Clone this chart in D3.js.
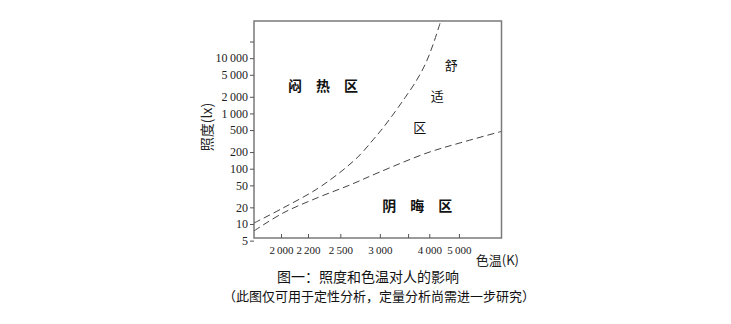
<!DOCTYPE html>
<html lang="zh">
<head>
<meta charset="UTF-8">
<title>照度和色温对人的影响</title>
<script src="https://d3js.org/d3.v7.min.js"></script>
<style>
  body { margin: 0; background: #fff; }
  svg { display: block; }
  .cjk { font-family: "Noto Sans CJK SC", sans-serif; }
</style>
</head>
<body>
<script>
// colour temperature (K) and illuminance (lx)
var xTicks = [2000, 2200, 2500, 3000, 3500, 4000, 5000];
var xTickLabels = ["2\u2009000", "2\u2009200", "2\u2009500", "3\u2009000", "", "4\u2009000", "5\u2009000"];
var yTicks = [5, 10, 20, 50, 100, 200, 500, 1000, 2000, 5000, 10000, 20000];
var yTickLabels = ["5", "10", "20", "50", "100", "200", "500", "1\u2009000", "2\u2009000", "5\u2009000", "10\u2009000", ""];

// upper boundary (闷热区 / 舒适区)
var upperT   = [1833, 2014, 2276, 2529, 2726, 2900, 3049, 3249, 3436, 3650, 3888, 4103, 4330];
var upperLux = [10.4, 19.5, 43, 95, 178, 333, 548, 1069, 1919, 3580, 7590, 17500, 46000];
// lower boundary (舒适区 / 阴晦区)
var lowerT   = [1833, 2014, 2276, 2607, 3002, 3940, 5048, 7780];
var lowerLux = [7.5, 15.8, 29.6, 50.9, 87.5, 193, 293, 472];

var zoneLabels = [
    {text: "闷\u3000热\u3000区", T: 2330, lux: 3300, bold: true},
    {text: "阴\u3000晦\u3000区", T: 3700, lux: 22, bold: true},
    {text: "舒", T: 4700, lux: 7800, bold: false},
    {text: "适", T: 4230, lux: 2100, bold: false},
    {text: "区", T: 3760, lux: 590, bold: false}
];

var width = 731, height = 324;
var plotL = 254, plotR = 501.5, plotT = 21, plotB = 238;

var svg = d3.select("body").append("svg")
    .attr("width", width)
    .attr("height", height);

svg.append("rect").attr("width", width).attr("height", height).attr("fill", "#fff");

// x runs on reciprocal temperature (mired), hotter colours to the right
var mired = d3.scaleLinear().domain([1e6 / 1833, 1e6 / 7800]).range([plotL, plotR]);
var x = function(t) { return mired(1e6 / t); };
var y = d3.scaleLog().domain([5.58, 47000]).range([plotB, plotT]);

// frame
svg.append("rect")
    .attr("x", plotL).attr("y", plotT)
    .attr("width", plotR - plotL).attr("height", plotB - plotT)
    .attr("fill", "none")
    .attr("stroke", "#7a7a7a")
    .attr("stroke-width", 1.5);

var serif = "'Liberation Serif', 'DejaVu Serif', serif";

// y axis
var yAxis = svg.append("g")
    .attr("transform", "translate(" + plotL + ",0)")
    .call(d3.axisLeft(y).tickValues(yTicks).tickSize(4).tickSizeOuter(0)
        .tickFormat(function(d, i) { return yTickLabels[i]; }));
yAxis.select(".domain").remove();
yAxis.selectAll("line").attr("stroke", "#555");
yAxis.selectAll("text")
    .style("font-family", serif)
    .style("font-size", "12px")
    .attr("fill", "#222")
    .attr("dx", 1);

// x axis, ticks pointing inward
var xAxis = svg.append("g")
    .attr("transform", "translate(0," + plotB + ")")
    .call(d3.axisBottom(mired).tickValues(xTicks.map(function(t) { return 1e6 / t; }))
        .tickSize(-4).tickSizeOuter(0).tickPadding(8)
        .tickFormat(function(d, i) { return xTickLabels[i]; }));
xAxis.select(".domain").remove();
xAxis.selectAll("line").attr("stroke", "#555");
xAxis.selectAll("text")
    .style("font-family", serif)
    .style("font-size", "11px")
    .attr("fill", "#222");

// boundary curves
var line = d3.line()
    .x(function(d) { return x(d[0]); })
    .y(function(d) { return y(d[1]); })
    .curve(d3.curveCatmullRom);

[[upperT, upperLux], [lowerT, lowerLux]].forEach(function(s) {
    var pts = s[0].map(function(t, i) { return [t, s[1][i]]; });
    svg.append("path")
        .attr("d", line(pts))
        .attr("fill", "none")
        .attr("stroke", "#444")
        .attr("stroke-width", 1)
        .attr("stroke-dasharray", "7,4");
});

// zone names
svg.selectAll(".zone")
    .data(zoneLabels)
    .join("text")
    .attr("class", "zone cjk")
    .attr("x", function(d) { return x(d.T); })
    .attr("y", function(d) { return y(d.lux); })
    .attr("text-anchor", "middle")
    .attr("dominant-baseline", "central")
    .attr("font-size", function(d) { return d.bold ? 14 : 13; })
    .attr("font-weight", function(d) { return d.bold ? 700 : 400; })
    .attr("fill", "#111")
    .text(function(d) { return d.text; });

// axis titles
svg.append("text")
    .attr("class", "cjk")
    .attr("transform", "translate(206,127) rotate(-90)")
    .attr("text-anchor", "middle")
    .attr("dominant-baseline", "central")
    .attr("font-size", 14)
    .attr("fill", "#222")
    .text("照度(lx)");

svg.append("text")
    .attr("class", "cjk")
    .attr("x", 519).attr("y", 259)
    .attr("text-anchor", "end")
    .attr("dominant-baseline", "central")
    .attr("font-size", 13)
    .attr("fill", "#222")
    .text("色温(K)");

// caption
svg.append("text")
    .attr("class", "cjk")
    .attr("x", 368).attr("y", 276)
    .attr("text-anchor", "middle")
    .attr("dominant-baseline", "central")
    .attr("font-size", 14)
    .attr("fill", "#111")
    .text("图一：照度和色温对人的影响");

svg.append("text")
    .attr("class", "cjk")
    .attr("x", 379).attr("y", 295)
    .attr("text-anchor", "middle")
    .attr("dominant-baseline", "central")
    .attr("font-size", 13)
    .attr("fill", "#111")
    .text("（此图仅可用于定性分析，定量分析尚需进一步研究）");
</script>
</body>
</html>
